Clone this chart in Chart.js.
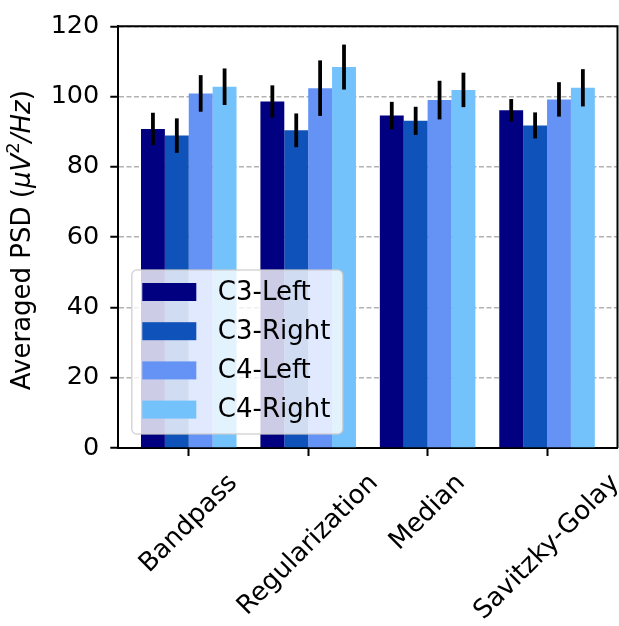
<!DOCTYPE html>
<html>
<head>
<meta charset="utf-8">
<script src="https://cdn.jsdelivr.net/npm/chart.js@4.4.1/dist/chart.umd.min.js"></script>
<style>
  html, body { margin: 0; padding: 0; background: #fff; }
  canvas { display: block; }
</style>
</head>
<body>
<canvas id="psdChart" width="619" height="626"></canvas>
<script>
// filter methods on the x axis, one group of four bars each
const methods = ['Bandpass', 'Regularization', 'Median', 'Savitzky-Golay'];
const seriesNames = ['C3-Left', 'C3-Right', 'C4-Left', 'C4-Right'];

// mean PSD per channel/side
const c3Left  = [90.8, 98.6, 94.6, 96.1];
const c3Right = [88.9, 90.4, 93.1, 91.8];
const c4Left  = [100.9, 102.4, 99.0, 99.2];
const c4Right = [102.8, 108.4, 101.9, 102.5];

// error bar half-lengths
const c3LeftErr  = [4.6, 4.6, 3.9, 3.2];
const c3RightErr = [4.9, 4.8, 4.0, 3.7];
const c4LeftErr  = [5.2, 7.9, 5.5, 4.9];
const c4RightErr = [5.2, 6.4, 4.9, 5.3];

const yTicks = [0, 20, 40, 60, 80, 100, 120];

const barColors = ['#000080', '#0F52BA', '#6593F5', '#73C2FB'];
const FONT = "'DejaVu Sans', 'Liberation Sans', sans-serif";
const FONT_SIZE = 25.5;

Chart.defaults.font.family = FONT;
Chart.defaults.color = '#000';

const values = [c3Left, c3Right, c4Left, c4Right];
const errors = [c3LeftErr, c3RightErr, c4LeftErr, c4RightErr];

const datasets = seriesNames.map((name, d) => ({
    label: name,
    data: values[d].map((v, i) => ({ x: i, y: v })),
    errors: errors[d],
    backgroundColor: barColors[d],
    borderWidth: 0,
    categoryPercentage: 0.8,
    barPercentage: 1.0
}));

// vertical error bars, no caps
const errorBars = {
    id: 'errorBars',
    afterDatasetsDraw(chart) {
        const ctx = chart.ctx;
        const yScale = chart.scales.y;
        ctx.save();
        ctx.strokeStyle = '#000';
        ctx.lineWidth = 3.8;
        ctx.lineCap = 'butt';
        chart.data.datasets.forEach((ds, d) => {
            const meta = chart.getDatasetMeta(d);
            meta.data.forEach((bar, i) => {
                const v = ds.data[i].y;
                const e = ds.errors[i];
                ctx.beginPath();
                ctx.moveTo(bar.x, yScale.getPixelForValue(v + e));
                ctx.lineTo(bar.x, yScale.getPixelForValue(v - e));
                ctx.stroke();
            });
        });
        ctx.restore();
    }
};

// top/right spines, rotated category labels, y title and the legend box
const decorations = {
    id: 'decorations',
    afterDraw(chart) {
        const ctx = chart.ctx;
        const area = chart.chartArea;
        const xScale = chart.scales.x;

        ctx.save();
        ctx.strokeStyle = '#000';
        ctx.lineWidth = 2;
        ctx.beginPath();
        ctx.moveTo(area.left, area.top);
        ctx.lineTo(area.right, area.top);
        ctx.lineTo(area.right, area.bottom);
        ctx.stroke();

        // category labels at 45 degrees, centred under each tick
        const labelSize = 26;
        ctx.font = labelSize + 'px ' + FONT;
        ctx.fillStyle = '#000';
        ctx.textAlign = 'center';
        ctx.textBaseline = 'middle';
        methods.forEach((m, i) => {
            const w = ctx.measureText(m).width;
            const boxH = (w + labelSize) * Math.SQRT1_2;
            const cx = xScale.getPixelForValue(i);
            const cy = area.bottom + 22 + boxH / 2;
            ctx.save();
            ctx.translate(cx, cy);
            ctx.rotate(-Math.PI / 4);
            ctx.fillText(m, 0, 0);
            ctx.restore();
        });

        // y axis title with the unit in math italics
        const size = 26;
        const parts = [
            { t: 'Averaged PSD (', f: size + 'px ' + FONT, dy: 0 },
            { t: '\u03BCV', f: 'italic ' + size + 'px ' + FONT, dy: 0 },
            { t: '2', f: Math.round(size * 0.7) + 'px ' + FONT, dy: -9 },
            { t: '/Hz', f: 'italic ' + size + 'px ' + FONT, dy: 0 },
            { t: ')', f: size + 'px ' + FONT, dy: 0 }
        ];
        let total = 0;
        parts.forEach(p => { ctx.font = p.f; p.w = ctx.measureText(p.t).width; total += p.w; });
        ctx.save();
        ctx.translate(23, (area.top + area.bottom) / 2 + 3);
        ctx.rotate(-Math.PI / 2);
        ctx.textAlign = 'left';
        ctx.textBaseline = 'middle';
        let px = -total / 2;
        parts.forEach(p => {
            ctx.font = p.f;
            ctx.fillText(p.t, px, p.dy);
            px += p.w;
        });
        ctx.restore();

        // legend, lower left inside the axes
        const lgW = 211, lgH = 164;
        const lgX = area.left + 13.5;
        const lgY = area.bottom - 14 - lgH;
        ctx.beginPath();
        ctx.roundRect(lgX, lgY, lgW, lgH, 5);
        ctx.fillStyle = 'rgba(255,255,255,0.8)';
        ctx.fill();
        ctx.strokeStyle = 'rgba(204,204,204,0.8)';
        ctx.lineWidth = 1.5;
        ctx.stroke();

        ctx.font = '26px ' + FONT;
        ctx.textAlign = 'left';
        ctx.textBaseline = 'middle';
        chart.data.datasets.forEach((ds, d) => {
            const rowY = lgY + 22 + d * 39.2;
            ctx.fillStyle = ds.backgroundColor;
            ctx.fillRect(lgX + 10.5, rowY - 9, 54, 18);
            ctx.fillStyle = '#000';
            ctx.fillText(ds.label, lgX + 86, rowY + 1);
        });
        ctx.restore();
    }
};

const ctx = document.getElementById('psdChart').getContext('2d');
const psdChart = new Chart(ctx, {
    type: 'bar',
    data: { datasets: datasets },
    options: {
        responsive: false,
        animation: false,
        devicePixelRatio: 1,
        layout: { padding: { left: 0, top: 21, right: 1.5, bottom: 0 } },
        plugins: {
            legend: { display: false },
            tooltip: { enabled: false }
        },
        scales: {
            x: {
                type: 'linear',
                min: -0.59,
                max: 3.59,
                offset: false,
                afterBuildTicks: s => { s.ticks = methods.map((_, i) => ({ value: i })); },
                afterFit: s => { s.height = 178; },
                ticks: { display: false },
                grid: {
                    offset: false,
                    drawOnChartArea: false,
                    drawTicks: true,
                    tickLength: 8,
                    tickWidth: 2,
                    tickColor: '#000'
                },
                border: { color: '#000', width: 2 }
            },
            y: {
                min: 0,
                max: 120,
                z: 1,
                afterBuildTicks: s => { s.ticks = yTicks.map(v => ({ value: v })); },
                afterFit: s => { s.width = 118.3; },
                ticks: {
                    font: { size: FONT_SIZE },
                    color: '#000',
                    padding: 11
                },
                grid: {
                    color: 'rgba(128,128,128,0.6)',
                    lineWidth: 1.5,
                    drawTicks: true,
                    tickLength: 8,
                    tickWidth: 2,
                    tickColor: '#000'
                },
                border: { color: '#000', width: 2, dash: [5, 2.5] }
            }
        }
    },
    plugins: [errorBars, decorations]
});
</script>
</body>
</html>
